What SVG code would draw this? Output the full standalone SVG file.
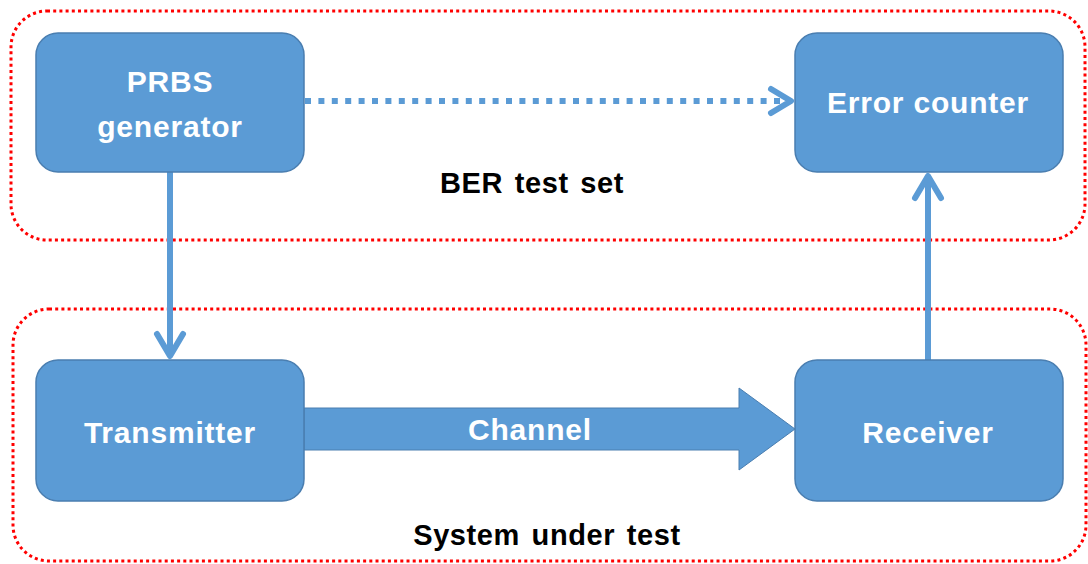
<svg xmlns="http://www.w3.org/2000/svg" width="1088" height="564" viewBox="0 0 1088 564">
<style>
.grp{fill:none;stroke:#FF0000;stroke-width:3;stroke-dasharray:3 3.2}
.box{fill:#5B9BD5;stroke:#4A7EB0;stroke-width:1.5}
.lbl{font-family:"Liberation Sans",Arial,sans-serif;font-weight:bold;font-size:30px;letter-spacing:0.8px;fill:#FFFFFF;text-anchor:middle}
.cap{font-family:"Liberation Sans",Arial,sans-serif;font-weight:bold;font-size:29px;letter-spacing:0.6px;word-spacing:3px;fill:#000000;text-anchor:middle}
.ln{fill:none;stroke:#5B9BD5;stroke-width:6}
.hd{fill:none;stroke:#5B9BD5;stroke-width:6;stroke-linecap:round;stroke-linejoin:round}
</style>
<rect width="1088" height="564" fill="#FFFFFF"/>
<g id="groups">
<rect id="ber-test-set" class="grp" x="11" y="11" width="1074" height="229" rx="36"/>
<rect id="system-under-test" class="grp" x="13" y="309" width="1073" height="252" rx="36"/>
</g>
<g id="connectors">
<line class="ln" x1="170" y1="172" x2="170" y2="356"/>
<polyline class="hd" points="157,334 170,356 183,334"/>
<line class="ln" x1="928" y1="360" x2="928" y2="176"/>
<polyline class="hd" points="915,198 928,176 941,198"/>
<line class="ln" x1="305" y1="101" x2="785" y2="101" stroke-dasharray="6 7.4"/>
<polyline class="hd" points="771,89 791,101 771,113"/>
<polygon points="304,408 739,408 739,388 795,429 739,470 739,450 304,450" fill="#5B9BD5" stroke="#4A7EB0" stroke-width="1"/>
<text class="lbl" x="530" y="440">Channel</text>
</g>
<g id="prbs">
<rect class="box" x="36" y="33" width="268" height="139" rx="22"/>
<text class="lbl" x="170" y="92">PRBS</text>
<text class="lbl" x="170" y="137">generator</text>
</g>
<g id="error-counter">
<rect class="box" x="795" y="33" width="268" height="139" rx="22"/>
<text class="lbl" x="928" y="113">Error counter</text>
</g>
<g id="transmitter">
<rect class="box" x="36" y="360" width="268" height="141" rx="22"/>
<text class="lbl" x="170" y="443">Transmitter</text>
</g>
<g id="receiver">
<rect class="box" x="795" y="360" width="268" height="141" rx="22"/>
<text class="lbl" x="928" y="443">Receiver</text>
</g>
<g id="captions">
<text class="cap" x="532" y="193">BER test set</text>
<text class="cap" x="547" y="545">System under test</text>
</g>
</svg>
